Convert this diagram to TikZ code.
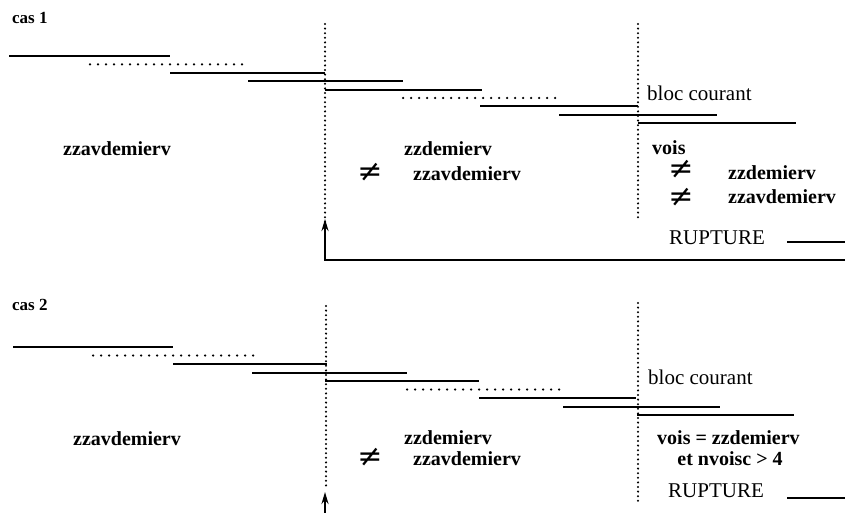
\documentclass[tikz,border=0pt]{standalone}
\usepackage{fontspec}
\setmainfont{Liberation Serif}
\newfontfamily\neqfont{DejaVu Serif}
\usetikzlibrary{arrows.meta}
\begin{document}
\begin{tikzpicture}[x=1pt,y=-1pt,
  solidseg/.style={line width=2pt},
  dotseg/.style={line width=2.5pt, dash pattern=on 0pt off 8pt, line cap=round},
  vdots/.style={line width=2.3pt, dash pattern=on 0pt off 4.6pt, line cap=round},
  arrowline/.style={line width=2pt, -{Stealth[length=12pt,width=7pt]}},
  ztext/.style={inner sep=0pt, font=\fontsize{20}{22}\selectfont\bfseries},
  rtext/.style={inner sep=0pt, font=\fontsize{21}{23}\selectfont},
  castext/.style={inner sep=0pt, anchor=west, font=\fontsize{17}{19}\selectfont\bfseries},
  neqsym/.style={inner sep=0pt, text height=15pt, text depth=-4pt, font=\neqfont\fontsize{30}{30}\selectfont}
]
\useasboundingbox (0,0) rectangle (849,513);

% ---------------- cas 1 ----------------
\node[castext] (cas1) at (12,18) {cas 1};
\draw[solidseg] (9,56) -- (170,56);
\draw[dotseg]   (90,64.4) -- (248,64.4);
\draw[solidseg] (170,72.8) -- (325,72.8);
\draw[solidseg] (248,81.2) -- (403,81.2);
\draw[solidseg] (325,89.6) -- (482,89.6);
\draw[dotseg]   (403,98) -- (559,98);
\draw[solidseg] (480,106.4) -- (638,106.4);
\draw[solidseg] (559,114.8) -- (717,114.8);
\draw[solidseg] (638,123.2) -- (796,123.2);
\draw[vdots] (325,24) -- (325,222);
\draw[vdots] (638,24) -- (638,218);

\node[rtext, anchor=west] (bloc1) at (647,93) {bloc courant};
\node[ztext] (zav1) at (117,149) {zzavdemierv};
\node[ztext] (zd1) at (448,149) {zzdemierv};
\node[neqsym] (ne1) at (370,174) {≠};
\node[ztext] (zavm1) at (467,174) {zzavdemierv};
\node[ztext, anchor=west] (vois1) at (652,148) {vois};
\node[neqsym] (ne2) at (681,171) {≠};
\node[ztext, anchor=west] (zd2) at (728,173) {zzdemierv};
\node[neqsym] (ne3) at (681,199) {≠};
\node[ztext, anchor=west] (zav2) at (728,197) {zzavdemierv};
\node[rtext, anchor=west] (rup1) at (669,238) {RUPTURE};
\coordinate (rl1a) at (787,242);
\coordinate (rl1b) at (845,242);
\draw[solidseg] (rl1a) -- (rl1b);

\coordinate (r1) at (845,260);
\coordinate (c1) at (325,260);
\coordinate (t1) at (325,219);
\draw[arrowline] (r1) -- (c1) -- (t1);

% ---------------- cas 2 ----------------
\node[castext] (cas2) at (12,305) {cas 2};
\draw[solidseg] (13,347) -- (173,347);
\draw[dotseg]   (93,355.5) -- (253,355.5);
\draw[solidseg] (173,364) -- (327,364);
\draw[solidseg] (252,372.5) -- (407,372.5);
\draw[solidseg] (325,381) -- (479,381);
\draw[dotseg]   (407,389.5) -- (564,389.5);
\draw[solidseg] (479,398) -- (636,398);
\draw[solidseg] (563,406.5) -- (720,406.5);
\draw[solidseg] (637,415) -- (794,415);
\draw[vdots] (326,306) -- (326,489);
\draw[vdots] (638,303) -- (638,503);

\node[rtext, anchor=west] (bloc2) at (648,377) {bloc courant};
\node[ztext] (zav3) at (127,439) {zzavdemierv};
\node[ztext] (zd3) at (448,438) {zzdemierv};
\node[neqsym] (ne4) at (370,459) {≠};
\node[ztext] (zavm3) at (467,459) {zzavdemierv};
\node[ztext, anchor=west] (vois2) at (657,438) {vois = zzdemierv};
\node[ztext] (nv) at (730,459) {et nvoisc > 4};
\node[rtext, anchor=west] (rup2) at (668,491) {RUPTURE};
\coordinate (rl2a) at (787,498);
\coordinate (rl2b) at (845,498);
\draw[solidseg] (rl2a) -- (rl2b);

\coordinate (b2) at (325,513);
\coordinate (t2) at (325,492);
\draw[arrowline] (b2) -- (t2);
\end{tikzpicture}
\end{document}
